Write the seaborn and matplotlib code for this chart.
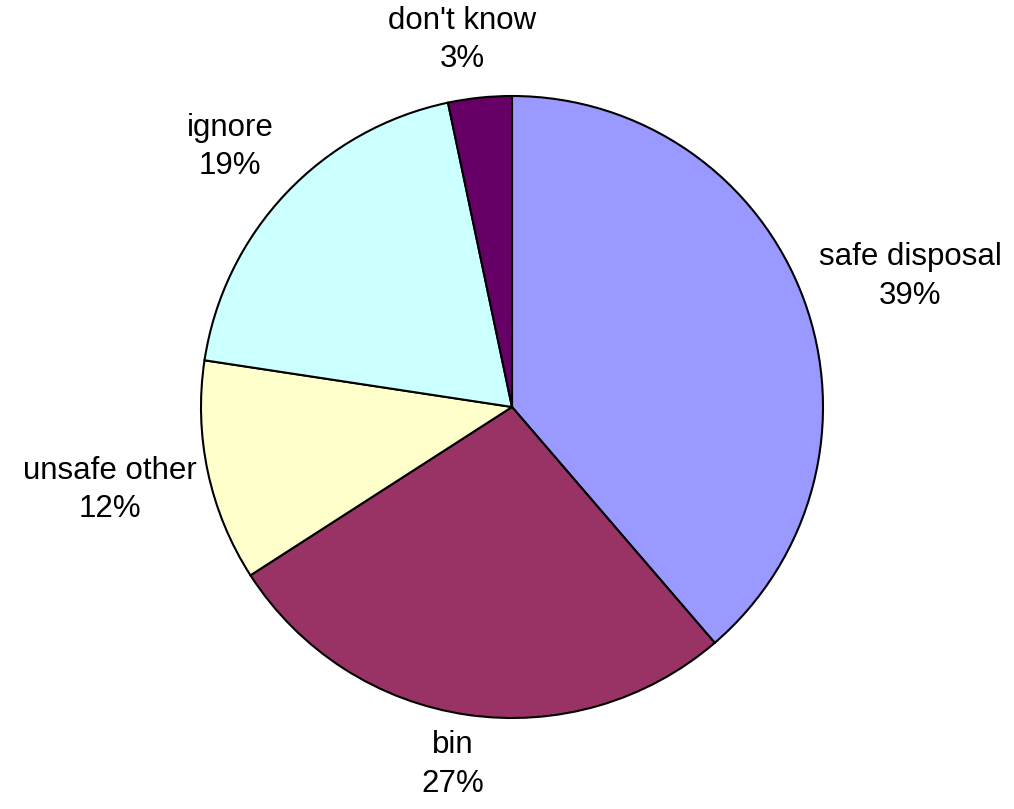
import matplotlib
matplotlib.use("Agg")
import matplotlib.pyplot as plt
import seaborn as sns

categories = ["safe disposal", "bin", "unsafe other", "ignore", "don't know"]
values = [38.7, 27.2, 11.5, 19.3, 3.3]
pct_labels = ["39%", "27%", "12%", "19%", "3%"]
colors = ["#9999FF", "#993366", "#FFFFCC", "#CCFFFF", "#660066"]
label_pos = [(1.28, 0.42), (-0.19, -1.15), (-1.293, -0.267), (-0.907, 0.836), (-0.161, 1.18)]

sns.set_theme(style="white")
plt.rcParams['font.family'] = ['Liberation Sans', 'DejaVu Sans']

fig = plt.figure(figsize=(10.14, 8.09), dpi=100)
ax = fig.add_axes([0, 0, 1, 1])
wedges, texts = ax.pie(values, colors=colors, startangle=90, counterclock=False,
                       labels=[f"{c}\n{p}" for c, p in zip(categories, pct_labels)],
                       wedgeprops=dict(edgecolor="black", linewidth=1.5),
                       textprops=dict(fontsize=22.5, color="black", ha="center", va="center",
                                      multialignment="center", linespacing=1.38))
for t, pos in zip(texts, label_pos):
    t.set_position(pos)
    t.set_ha("center")
    t.set_va("center")

# pixel mapping: center (512,407), radius 311 px
W, H = 1014, 809
cx, cy, r = 512, 407, 311
ax.set_xlim(-cx / r, (W - cx) / r)
ax.set_ylim(-(H - cy) / r, cy / r)
ax.set_aspect("equal")
ax.axis("off")
fig.savefig("out.png", dpi=100, facecolor="white")
